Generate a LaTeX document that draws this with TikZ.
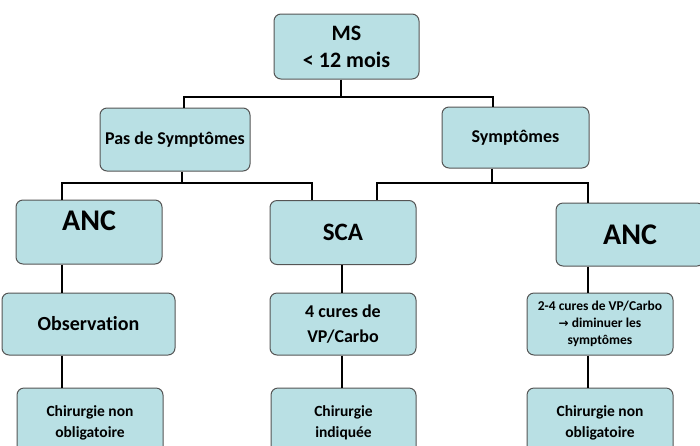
\documentclass[tikz,border=0pt]{standalone}
\usepackage{fontspec}
\setmainfont{Carlito}[Ligatures=NoCommon]
\newfontfamily\arrowfont{DejaVu Sans}
\definecolor{boxfill}{HTML}{B9E0E4}
\definecolor{boxline}{HTML}{555555}
\begin{document}
\begin{tikzpicture}[x=1pt,y=-1pt,
  box/.style={draw=boxline, line width=1pt, fill=boxfill, rounded corners=7pt,
    align=center, inner sep=2pt, font=\bfseries},
  conn/.style={draw=black, line width=1.4pt}]
\useasboundingbox (0,0) rectangle (700,445);
\clip (0,0) rectangle (700,445);
% level 0
\node[box, minimum width=145pt, minimum height=65pt, font=\bfseries\fontsize{22}{27}\selectfont] (ms) at (346.5,46.5) {MS\\< 12 mois};
% level 1
\node[box, minimum width=150pt, minimum height=63pt, font=\bfseries\fontsize{18}{21}\selectfont] (pas) at (175,139.5) {Pas de Symptômes};
\node[box, minimum width=147pt, minimum height=61pt, font=\bfseries\fontsize{18}{21}\selectfont] (sym) at (515.5,137.5) {Symptômes};
% level 2
\node[box, minimum width=146pt, minimum height=64pt, text height=20pt, text depth=24pt, font=\bfseries\fontsize{30}{34}\selectfont] (anc1) at (89,232) {ANC};
\node[box, minimum width=146pt, minimum height=64pt, font=\bfseries\fontsize{25}{29}\selectfont] (sca) at (343,232.5) {SCA};
\node[box, minimum width=148pt, minimum height=63pt, font=\bfseries\fontsize{30}{34}\selectfont] (anc2) at (630,234.5) {ANC};
% level 3
\node[box, minimum width=173pt, minimum height=62pt, font=\bfseries\fontsize{20}{24}\selectfont] (obs) at (88.5,324) {Observation};
\node[box, minimum width=146pt, minimum height=62pt, font=\bfseries\fontsize{18}{25}\selectfont] (cur4) at (343,324) {4 cures de\\VP/Carbo};
\node[box, minimum width=146pt, minimum height=62pt, font=\bfseries\fontsize{13.5}{17}\selectfont] (cur24) at (600,324) {2-4 cures de VP/Carbo\\{\arrowfont\bfseries\fontsize{12}{17}\selectfont →} diminuer les\\symptômes};
% level 4
\node[box, minimum width=146pt, minimum height=70pt, font=\bfseries\fontsize{15.5}{21}\selectfont] (chir1) at (90,423) {Chirurgie non\\obligatoire};
\node[box, minimum width=145pt, minimum height=70pt, font=\bfseries\fontsize{15.5}{21}\selectfont] (chir2) at (343.5,423) {Chirurgie\\indiquée};
\node[box, minimum width=146pt, minimum height=70pt, font=\bfseries\fontsize{15.5}{21}\selectfont] (chir3) at (600,423) {Chirurgie non\\obligatoire};
% junction coordinates
\coordinate (j0) at (341,97);
\coordinate (j1) at (182,183);
\coordinate (j2) at (492,183);
% connectors
\draw[conn] (ms.south -| j0) -- (j0);
\draw[conn] (pas.north -| 184,0) |- (j0) -| (sym.north -| 493,0);
\draw[conn] (pas.south -| j1) -- (j1);
\draw[conn] (anc1.north -| 62,0) |- (j1) -| (sca.north -| 312,0);
\draw[conn] (sym.south -| j2) -- (j2);
\draw[conn] (sca.north -| 377,0) |- (j2) -| (anc2.north -| 588,0);
\draw[conn] (anc1.south -| 62,0) -- (obs.north -| 62,0);
\draw[conn] (obs.south -| 62,0) -- (chir1.north -| 62,0);
\draw[conn] (sca.south -| 342,0) -- (cur4.north -| 342,0);
\draw[conn] (cur4.south -| 342,0) -- (chir2.north -| 342,0);
\draw[conn] (anc2.south -| 588,0) -- (cur24.north -| 588,0);
\draw[conn] (cur24.south -| 588,0) -- (chir3.north -| 588,0);
\end{tikzpicture}
\end{document}
